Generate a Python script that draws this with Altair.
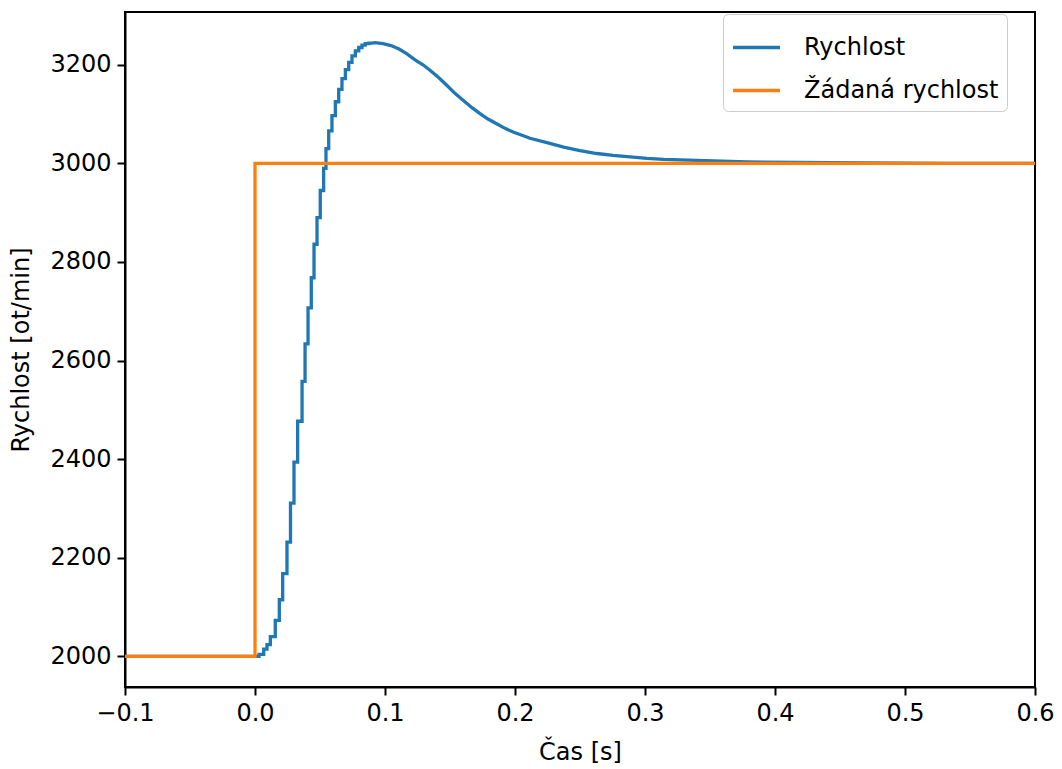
import altair as alt
import pandas as pd

# ---- Rychlost (measured speed): staircase part, start time of each held sample and its value
step_t = [0.0, 0.0031, 0.0067, 0.0092, 0.0118, 0.0156, 0.0187, 0.0213, 0.0246, 0.0273,
          0.0300, 0.0328, 0.0362, 0.0385, 0.0408, 0.0433, 0.0454, 0.0477, 0.0502, 0.0528,
          0.0546, 0.0567, 0.0592, 0.0618, 0.0644, 0.0669, 0.0695, 0.0721, 0.0746, 0.0772,
          0.0798, 0.0823, 0.0848, 0.0875]
step_v = [2000, 2004, 2015, 2024, 2040, 2073, 2115, 2168, 2232, 2311,
          2394, 2477, 2558, 2634, 2707, 2768, 2836, 2890, 2945, 2990,
          3030, 3066, 3097, 3125, 3150, 3172, 3190, 3205, 3218, 3228,
          3235, 3240, 3243, 3244]
step_end = 0.0900

# ---- Rychlost: smooth decay part
smooth_t = [0.0923, 0.0985, 0.1046, 0.1108, 0.1169, 0.1231, 0.1292, 0.1346, 0.1408, 0.1477,
            0.1538, 0.1605, 0.1669, 0.1731, 0.1792, 0.1862, 0.1923, 0.1990, 0.2054, 0.2115,
            0.2246, 0.2374, 0.2500, 0.2630, 0.2754, 0.2885, 0.3015, 0.3144, 0.3400, 0.3785,
            0.4170, 0.4700, 0.5320, 0.6000]
smooth_v = [3245, 3243, 3239, 3232, 3222, 3210, 3200, 3189, 3175, 3158,
            3142, 3127, 3113, 3101, 3090, 3080, 3071, 3063, 3057, 3051,
            3042, 3033, 3026, 3020, 3016, 3013, 3010, 3008, 3006, 3003,
            3002, 3001, 3000, 3000]

# ---- Žádaná rychlost (reference speed)
ref_t = [-0.1, 0.0, 0.0, 0.6]
ref_v = [2000, 2000, 3000, 3000]

x_ticks = [-0.1, 0.0, 0.1, 0.2, 0.3, 0.4, 0.5, 0.6]
y_ticks = [2000, 2200, 2400, 2600, 2800, 3000, 3200]
series_names = ["Rychlost", "Žádaná rychlost"]

# build table for the measured speed (explicit staircase vertices)
pts = [(-0.1, 2000)]
prev = 2000
for t, v in zip(step_t, step_v):
    pts.append((t, prev))
    pts.append((t, v))
    prev = v
pts.append((step_end, prev))
pts += list(zip(smooth_t, smooth_v))
df_speed = pd.DataFrame({"t": [p[0] for p in pts], "v": [p[1] for p in pts],
                         "i": list(range(len(pts))), "series": series_names[0]})
df_ref = pd.DataFrame({"t": ref_t, "v": ref_v, "i": list(range(len(ref_t))),
                       "series": series_names[1]})

color_scale = alt.Scale(domain=series_names, range=["#1f77b4", "#ff7f0e"])
x_enc = alt.X("t:Q", scale=alt.Scale(domain=[-0.1, 0.6], nice=False),
              axis=alt.Axis(values=x_ticks, title="Čas [s]",
                            labelExpr="replace(format(datum.value, '.1f'), '-', '\u2212')"))
y_enc = alt.Y("v:Q", scale=alt.Scale(domain=[1938, 3307], nice=False, zero=False),
              axis=alt.Axis(values=y_ticks, title="Rychlost [ot/min]", format="d"))
col = alt.Color("series:N", scale=color_scale, legend=alt.Legend(title=None))

speed = alt.Chart(df_speed).mark_line(strokeWidth=3.3, clip=True).encode(
    x=x_enc, y=y_enc, color=col, order=alt.Order("i:Q"))
ref = alt.Chart(df_ref).mark_line(strokeWidth=3.3, clip=True).encode(
    x=x_enc, y=y_enc, color=col, order=alt.Order("i:Q"))

chart = alt.layer(speed, ref).properties(
    width=910, height=675,
    autosize=alt.AutoSizeParams(type="none"),
    padding={"left": 117, "top": 4, "right": 19, "bottom": 80},
).configure_view(stroke="black", strokeWidth=2
).configure_axis(
    grid=False, domainColor="black", domainWidth=2, tickColor="black", tickWidth=2,
    tickSize=8, labelFont="DejaVu Sans", labelFontSize=24, labelColor="black",
    titleFont="DejaVu Sans", titleFontSize=24, titleFontWeight="normal", titleColor="black",
    labelPadding=6, labelFlush=False, labelOverlap=False,
).configure_axisX(titlePadding=15).configure_axisY(titlePadding=16
).configure_legend(
    orient="none", legendX=598, legendY=2, fillColor="white", strokeColor="#cccccc",
    cornerRadius=5, padding=8, labelFont="DejaVu Sans", labelFontSize=24, labelLimit=0,
    labelColor="black", symbolType="stroke", symbolSize=2209, symbolStrokeWidth=3.3,
    labelOffset=22, rowPadding=5,
)

chart.save("out.html", embed_options={"renderer": "svg", "actions": False})
